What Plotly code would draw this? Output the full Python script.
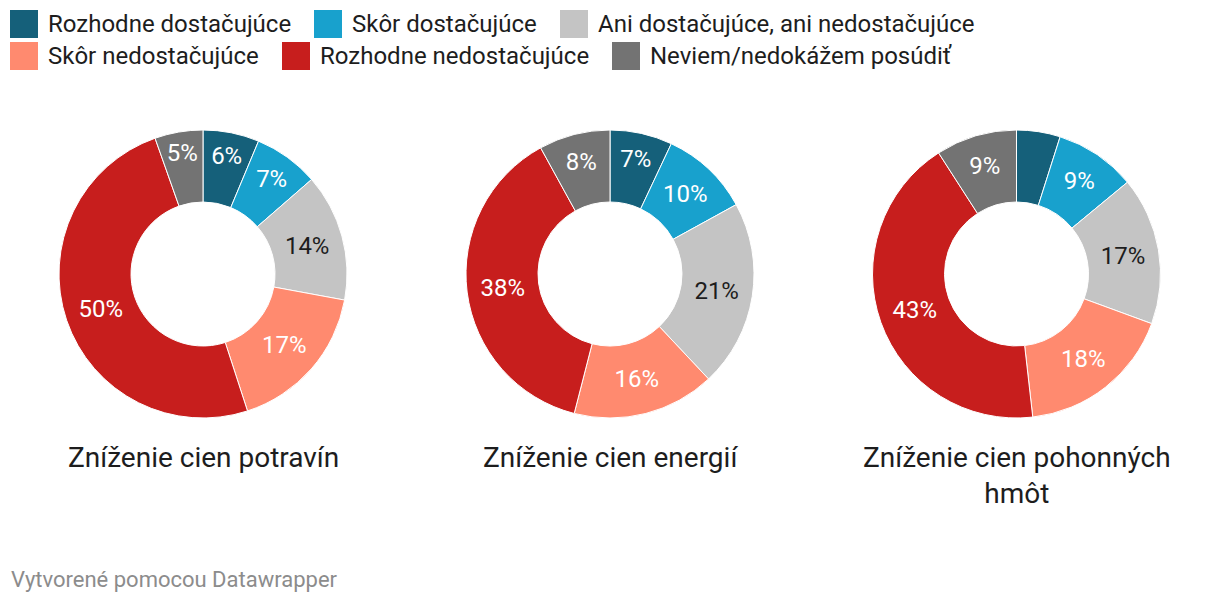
import plotly.graph_objects as go

# ---- data ----
categories = ["Rozhodne dostačujúce", "Skôr dostačujúce", "Ani dostačujúce, ani nedostačujúce",
              "Skôr nedostačujúce", "Rozhodne nedostačujúce", "Neviem/nedokážem posúdiť"]
titles = ["Zníženie cien potravín", "Zníženie cien energií", "Zníženie cien pohonných<br>hmôt"]
values_potraviny = [6.3, 7.3, 14.3, 17.1, 49.6, 5.4]
values_energie = [7, 10, 21, 16, 38, 8]
values_pohonne = [4.9, 9.1, 16.6, 17.6, 42.7, 9.1]
footer = "Vytvorené pomocou Datawrapper"

# ---- style ----
colors = ["#15607a", "#18a1cd", "#c4c4c4", "#ff8a6f", "#c71e1d", "#737373"]
text_colors = ["#ffffff", "#ffffff", "#1d1d1d", "#ffffff", "#ffffff", "#ffffff"]
OFF = 8  # page body margin
W, H = 1220 - OFF, 602 - OFF
FONT = "Roboto"


def px_x(x):
    return (x - OFF) / W


def px_y(y):
    return 1 - (y - OFF) / H


centers_x = [203, 610, 1016.5]
center_y = 274
radius = 144

fig = go.Figure()
for vals, cx in zip([values_potraviny, values_energie, values_pohonne], centers_x):
    txt = [f"{v:.0f}%" if v >= 5 else "" for v in vals]
    fig.add_trace(go.Pie(
        labels=categories, values=vals, text=txt, texttemplate="%{text}",
        textposition="inside", insidetextorientation="horizontal",
        hole=0.5, sort=False, direction="clockwise", rotation=0,
        marker=dict(colors=colors, line=dict(color="white", width=1)),
        textfont=dict(family=FONT, size=24, color=text_colors),
        hoverinfo="label+value",
        showlegend=False,
        domain=dict(x=[px_x(cx - radius), px_x(cx + radius)],
                    y=[px_y(center_y + radius), px_y(center_y - radius)]),
    ))

shapes = []
annotations = []

# manual legend (squares + labels)
legend_pos = [(10, 10), (314, 10), (560, 10), (10, 42), (282, 42), (612, 42)]
for cat, col, (lx, ly) in zip(categories, colors, legend_pos):
    shapes.append(dict(type="rect", xref="paper", yref="paper",
                       x0=px_x(lx), x1=px_x(lx + 28), y0=px_y(ly + 28), y1=px_y(ly),
                       fillcolor=col, line=dict(width=0)))
    annotations.append(dict(text=cat, xref="paper", yref="paper",
                            x=px_x(lx + 36), y=px_y(ly + 14), xanchor="left", yanchor="middle",
                            showarrow=False, font=dict(family=FONT, size=24, color="#1d1d1d")))

# titles under donuts
for t, cx in zip(titles, centers_x):
    annotations.append(dict(text=t, xref="paper", yref="paper",
                            x=px_x(cx), y=px_y(439), xanchor="center", yanchor="top",
                            showarrow=False, font=dict(family=FONT, size=28, color="#1d1d1d")))

annotations.append(dict(text=footer, xref="paper", yref="paper",
                        x=px_x(9), y=px_y(579), xanchor="left", yanchor="middle",
                        showarrow=False, font=dict(family=FONT, size=22, color="#8c8c8c")))

fig.update_layout(
    width=W, height=H, margin=dict(l=0, r=0, t=0, b=0),
    paper_bgcolor="white", plot_bgcolor="white",
    uniformtext=dict(mode="show", minsize=24),
    shapes=shapes, annotations=annotations,
    font=dict(family=FONT),
)

fig.write_html("out.html")
